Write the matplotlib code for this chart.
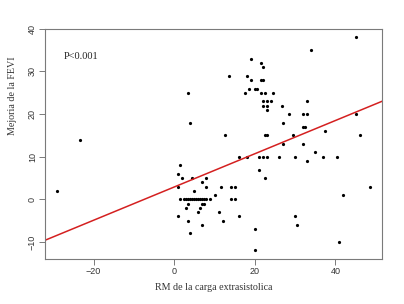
import numpy as np
import matplotlib
matplotlib.use("Agg")
import matplotlib.pyplot as plt

# Data
rm_carga = [-29, -23.5,
            1, 1, 1, 1.5, 1.5, 2, 2.5, 3, 3.5, 3.5, 3.5, 4, 4, 4.5, 5,
            3, 3.5, 4, 4.5, 5, 5.5, 6, 6.5, 7, 7.5,
            6, 6.5, 7, 7, 7.5, 7, 8, 8, 8, 9, 10, 11, 11.5, 12, 12.5, 13.5,
            14, 14, 15, 15, 16, 16, 17.5, 18, 18, 18.5, 19, 19, 20, 20.5,
            20, 20, 21, 21, 21.5, 21.5, 22, 22, 21.5, 22, 22, 22, 22.5, 22.5,
            23, 22.5, 23, 23, 23, 23, 24, 24.5, 26, 26.7, 27, 27, 28.5, 29.5,
            30, 30, 30.5, 32, 32, 32.5, 32, 33, 33, 33, 34, 35, 37, 37.5,
            40.5, 41, 42, 45, 45, 46, 48.5]
mejoria_fevi = [2, 14,
                6, 3, -4, 8, 0, 5, 0, -2, 25, -1, -5, 18, -8, 5, 2,
                0, 0, 0, 0, 0, 0, 0, 0, 0, 0,
                -3, -2, 4, -1, -1, -6, 5, 3, 0, 0, 1, -3, 3, -5, 15, 29,
                3, 0, 3, 0, 10, -4, 25, 29, 10, 26, 33, 28, 26, 26,
                -7, -12, 10, 7, 32, 28, 28, 31, 25, 23, 22, 10, 25, 15,
                15, 5, 23, 22, 21, 10, 23, 25, 10, 22, 18, 13, 20, 15,
                10, -4, -6, 20, 17, 17, 13, 23, 20, 9, 35, 11, 10, 16,
                10, -10, 1, 38, 20, 15, 3]

# regression line
intercepto = 2.9
pendiente = 0.39

x_ticks = [-20, 0, 20, 40]
y_ticks = [-10, 0, 10, 20, 30, 40]

fig = plt.figure(figsize=(4.04, 3.04), dpi=100)
ax = fig.add_axes([0.112, 0.148, 0.834, 0.757])

ax.plot(rm_carga, mejoria_fevi, 'o', color='black', markersize=2.3, markeredgewidth=0)
ax.axline((0, intercepto), slope=pendiente, color='#d42020', linewidth=1.1)

ax.set_xlim(-32, 51.6)
ax.set_ylim(-14, 40)
ax.set_xticks(x_ticks)
ax.set_yticks(y_ticks)

gris = '#7a7a7a'
for s in ax.spines.values():
    s.set_color(gris)
    s.set_linewidth(0.8)
ax.tick_params(direction='out', length=4, width=0.7, color=gris,
               labelsize=6.5, labelcolor='#333333', pad=2)
for lab in ax.get_xticklabels() + ax.get_yticklabels():
    lab.set_family('Liberation Sans')
for lab in ax.get_yticklabels():
    lab.set_rotation(90)
    lab.set_va('center')

ax.set_xlabel('RM de la carga extrasistolica', family='Liberation Serif',
              fontsize=7.2, color='#333333', labelpad=5)
ax.set_ylabel('Mejoria de la FEVI', family='Liberation Serif',
              fontsize=7.2, color='#333333')
ax.yaxis.set_label_coords(-0.085, 0.709)

ax.text(-27.4, 33.5, 'P<0.001', family='Liberation Serif', fontsize=7.5,
        color='#222222', va='center', ha='left')

fig.savefig('out.png', dpi=100)
